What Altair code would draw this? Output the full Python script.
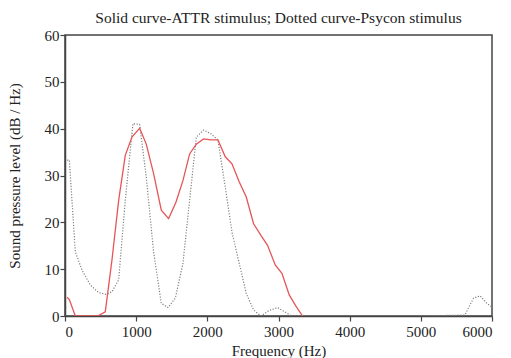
import altair as alt
import pandas as pd

title_text = "Solid curve-ATTR stimulus; Dotted curve-Psycon stimulus"

attr_freq = [30, 61, 145, 300, 459, 566, 660, 754, 847, 941, 1049, 1142, 1245, 1353, 1456,
             1559, 1657, 1751, 1845, 1948, 2050, 2149, 2252, 2346, 2449, 2547, 2650,
             2753, 2846, 2954, 3048, 3151, 3249, 3338]
attr_level = [4.0, 3.5, 0.0, 0.0, 0.0, 0.9, 12.0, 24.7, 34.3, 38.2, 40.1, 36.7, 30.4, 22.6, 20.8,
              24.3, 28.9, 34.6, 36.7, 37.8, 37.6, 37.6, 34.0, 32.5, 28.6, 25.4, 19.7,
              17.2, 15.1, 10.9, 9.1, 4.5, 2.0, 0.0]

psy_freq = [30, 61, 145, 239, 356, 473, 581, 660, 754, 847, 955, 1049, 1142, 1245, 1353, 1447,
            1550, 1657, 1751, 1845, 1948, 2050, 2149, 2252, 2346, 2449, 2547, 2650,
            2753, 2860, 2987, 3118, 3188, 4000, 5000, 5618, 5740, 5833, 5927, 5990]
psy_level = [33.3, 33.3, 13.7, 9.8, 6.6, 5.0, 4.6, 5.2, 7.7, 24.7, 41.1, 40.9, 29.6, 13.7, 2.7, 1.8,
             3.8, 11.2, 24.7, 38.2, 39.7, 38.9, 37.6, 27.5, 17.9, 11.2, 4.8, 1.3,
             0.0, 1.1, 1.8, 0.6, 0.0, 0.0, 0.0, 0.2, 3.8, 4.3, 2.7, 2.0]

attr_df = pd.DataFrame({"freq": attr_freq, "level": attr_level})
psy_df = pd.DataFrame({"freq": psy_freq, "level": psy_level})

FONT = "'Liberation Serif', 'Times New Roman', 'DejaVu Serif', serif"

x_enc = alt.X("freq:Q", scale=alt.Scale(domain=[0, 6000], nice=False),
              axis=alt.Axis(title="Frequency (Hz)", values=[0, 1000, 2000, 3000, 4000, 5000, 6000],
                            format="d", grid=False))
y_enc = alt.Y("level:Q", scale=alt.Scale(domain=[0, 60], nice=False),
              axis=alt.Axis(title="Sound pressure level (dB / Hz)",
                            values=[0, 10, 20, 30, 40, 50, 60], grid=False))

psy = alt.Chart(psy_df).mark_line(color="#808080", strokeDash=[1.2, 1.6], strokeWidth=1.2,
                                  clip=True).encode(x=x_enc, y=y_enc)
attr = alt.Chart(attr_df).mark_line(color="#e65557", strokeWidth=1.3,
                                    clip=True).encode(x=x_enc, y=y_enc)

chart = alt.layer(psy, attr).properties(
    width=427, height=281,
    title=alt.TitleParams(title_text, font=FONT, fontSize=15.5, fontWeight="normal",
                          color="#222", offset=2),
    autosize=alt.AutoSizeParams(type="none"),
    padding={"left": 57, "top": 27, "right": 8, "bottom": 46},
).configure_view(stroke="#444", strokeWidth=1.5).configure_axis(
    labelFont=FONT, titleFont=FONT, labelFontSize=15, titleFontSize=15,
    titleFontWeight="normal", labelColor="#222", titleColor="#222",
    domainColor="#444", domainWidth=1.5, tickColor="#444", tickSize=5, tickWidth=1.2,
    labelPadding=1,
).configure_axisY(titlePadding=22).configure_axisX(titlePadding=4, labelPadding=3)

chart.save("out.html", embed_options={"renderer": "svg", "actions": False})
